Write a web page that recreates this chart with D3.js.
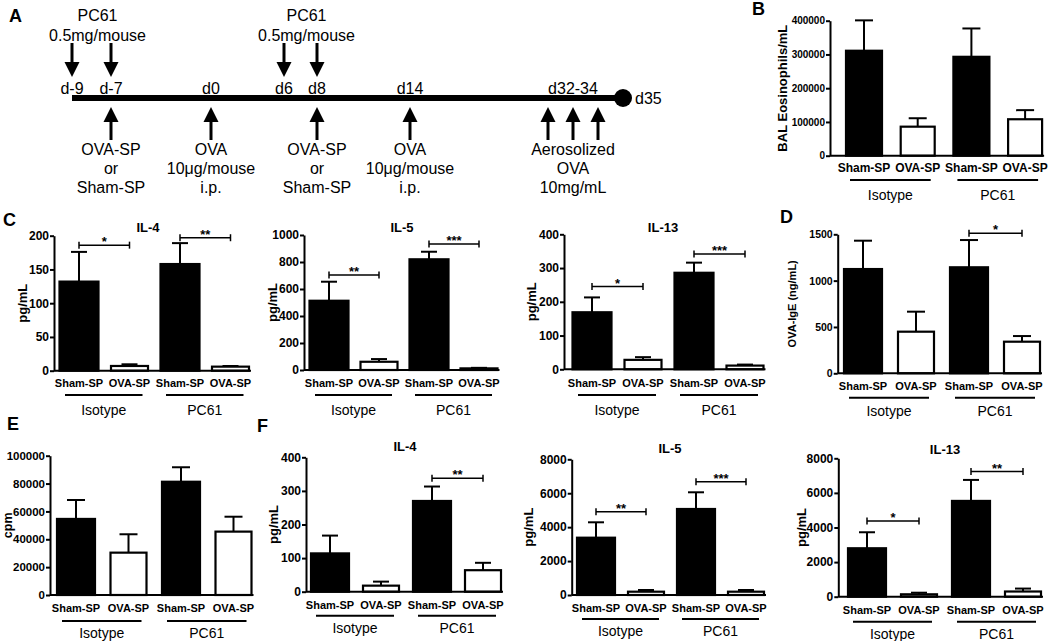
<!DOCTYPE html>
<html><head><meta charset="utf-8">
<script src="https://cdn.jsdelivr.net/npm/d3@7"></script>
<style>
body{margin:0;background:#fff}
svg{display:block}
text{font-family:"Liberation Sans",Arial,Helvetica,sans-serif;fill:#000}
</style>
</head><body>
<svg id="c" width="1050" height="641"></svg>
<script>
// ---------------- DATA ----------------
const categories = ["Sham-SP", "OVA-SP", "Sham-SP", "OVA-SP"];
const groups = ["Isotype", "PC61"];

const balEosMean = [311000, 86000, 293000, 108000];
const balEosErr  = [90000, 25000, 84000, 27000];
const balEosTicks = [0, 100000, 200000, 300000, 400000];

const balIL4Mean = [132, 7, 158, 6];
const balIL4Err  = [44, 2.5, 31, 1];
const balIL4Ticks = [0, 50, 100, 150, 200];
const balIL4Sig = [{from: 0, to: 1, label: "*", at: 186}, {from: 2, to: 3, label: "**", at: 197}];

const balIL5Mean = [513, 61, 820, 12];
const balIL5Err  = [141, 20, 56, 4];
const balIL5Ticks = [0, 200, 400, 600, 800, 1000];
const balIL5Sig = [{from: 0, to: 1, label: "**", at: 704}, {from: 2, to: 3, label: "***", at: 933}];

const balIL13Mean = [169, 28, 286, 11];
const balIL13Err  = [44, 8, 30, 3];
const balIL13Ticks = [0, 100, 200, 300, 400];
const balIL13Sig = [{from: 0, to: 1, label: "*", at: 245}, {from: 2, to: 3, label: "***", at: 342}];

const igeMean = [1125, 449, 1144, 341];
const igeErr  = [306, 216, 294, 61];
const igeTicks = [0, 500, 1000, 1500];
const igeSig = [{from: 2, to: 3, label: "*", at: 1511}];

const cpmMean = [54600, 30400, 81300, 45500];
const cpmErr  = [13600, 13200, 10400, 10700];
const cpmTicks = [0, 20000, 40000, 60000, 80000, 100000];

const recIL4Mean = [114, 18, 270, 64];
const recIL4Err  = [53, 12, 43, 22];
const recIL4Ticks = [0, 100, 200, 300, 400];
const recIL4Sig = [{from: 2, to: 3, label: "**", at: 338}];

const recIL5Mean = [3378, 195, 5070, 195];
const recIL5Err  = [908, 100, 985, 100];
const recIL5Ticks = [0, 2000, 4000, 6000, 8000];
const recIL5Sig = [{from: 0, to: 1, label: "**", at: 4911}, {from: 2, to: 3, label: "***", at: 6680}];

const recIL13Mean = [2800, 139, 5536, 300];
const recIL13Err  = [925, 92, 1214, 170];
const recIL13Ticks = [0, 2000, 4000, 6000, 8000];
const recIL13Sig = [{from: 0, to: 1, label: "*", at: 4379}, {from: 2, to: 3, label: "**", at: 7230}];

// Timeline (panel A)
const dayLabels = ["d-9", "d-7", "d0", "d6", "d8", "d14", "d32-34"];
const dayLabelDays = [-9, -7, 0, 6, 8, 14, 33];
const endDay = 35, endLabel = "d35", startDay = -9;
const pc61Days = [-9, -7, 6, 8];
const pc61Text = ["PC61", "0.5mg/mouse"];
const pc61TextDays = [-8, 7];
const upArrowDays = [-7, 0, 8, 14, 32, 33, 34];
const eventDays = [-7, 0, 8, 14, 33];
const eventTexts = [
  ["OVA-SP", "or", "Sham-SP"],
  ["OVA", "10\u03bcg/mouse", "i.p."],
  ["OVA-SP", "or", "Sham-SP"],
  ["OVA", "10\u03bcg/mouse", "i.p."],
  ["Aerosolized", "OVA", "10mg/mL"]
];

// ---------------- LAYOUT ----------------
const svg = d3.select("#c");
const FONT = '"Liberation Sans",Arial,Helvetica,sans-serif';

// piecewise day scale for the schematic timeline
const dayScale = d3.scaleLinear()
  .domain([-9, -7, 0, 6, 8, 14, 32, 34, 35])
  .range([72, 111, 211, 284, 317, 410, 548, 598, 623]);

function letter(t, x, y) {
  svg.append("text").attr("x", x).attr("y", y).attr("font-size", 18).attr("font-weight", "bold").text(t);
}

// ---- Panel A ----
(function () {
  const g = svg.append("g");
  const lineY = 98;
  g.append("line").attr("x1", dayScale(startDay)).attr("x2", dayScale(endDay))
    .attr("y1", lineY).attr("y2", lineY).attr("stroke", "#000").attr("stroke-width", 6);
  g.append("circle").attr("cx", dayScale(endDay)).attr("cy", lineY).attr("r", 9).attr("fill", "#000");
  g.append("text").attr("x", dayScale(endDay) + 12).attr("y", lineY + 6).attr("font-size", 16).text(endLabel);
  g.selectAll("text.day").data(dayLabels).join("text").attr("class", "day")
    .attr("x", (d, i) => dayScale(dayLabelDays[i])).attr("y", 94)
    .attr("text-anchor", "middle").attr("font-size", 16).text(d => d);
  // down arrows (PC61)
  pc61Days.forEach(d => {
    const x = dayScale(d);
    g.append("line").attr("x1", x).attr("x2", x).attr("y1", 43).attr("y2", 66).attr("stroke", "#000").attr("stroke-width", 3);
    g.append("path").attr("d", `M${x - 7.5},62L${x + 7.5},62L${x},77Z`).attr("fill", "#000");
  });
  pc61TextDays.forEach(d => {
    const x = dayScale(d) + 6;
    g.append("text").attr("x", x).attr("y", 21).attr("text-anchor", "middle").attr("font-size", 16).text(pc61Text[0]);
    g.append("text").attr("x", x).attr("y", 41).attr("text-anchor", "middle").attr("font-size", 16).text(pc61Text[1]);
  });
  // up arrows
  upArrowDays.forEach(d => {
    const x = dayScale(d);
    g.append("path").attr("d", `M${x},107L${x - 7.5},122L${x + 7.5},122Z`).attr("fill", "#000");
    g.append("line").attr("x1", x).attr("x2", x).attr("y1", 118).attr("y2", 140).attr("stroke", "#000").attr("stroke-width", 3);
  });
  eventDays.forEach((d, i) => {
    const x = dayScale(d);
    eventTexts[i].forEach((t, j) => {
      g.append("text").attr("x", x).attr("y", 155 + j * 19).attr("text-anchor", "middle").attr("font-size", 16).text(t);
    });
  });
})();
letter("A", 9, 22);

// ---- generic bar panel ----
function barPanel(p, mean, err, ticks, sig, title, yTitle) {
  const g = svg.append("g");
  const y = d3.scaleLinear().domain([0, ticks[ticks.length - 1]]).range([p.yBot, p.yTop]);
  const n = mean.length;
  const pi = 1 - p.w / p.s;
  const x = d3.scaleBand().domain(d3.range(n))
    .range([p.c0 - p.s / 2, p.c0 + (n - 0.5) * p.s])
    .paddingInner(pi).paddingOuter(pi / 2);
  const cx = i => x(i) + x.bandwidth() / 2;

  // y axis
  const ax = g.append("g").attr("transform", `translate(${p.ax},0)`)
    .call(d3.axisLeft(y).tickValues(ticks).tickSize(4).tickSizeOuter(0).tickPadding(1).tickFormat(d3.format("d")));
  ax.select(".domain").attr("stroke-width", 2);
  ax.selectAll(".tick line").attr("stroke-width", 2);
  ax.selectAll(".tick text").attr("font-size", p.tickFont).attr("font-weight", "bold")
    .attr("font-family", FONT).attr("fill", "#000");

  // bars
  g.selectAll("rect.bar").data(mean).join("rect").attr("class", "bar")
    .attr("x", (d, i) => x(i) + (i % 2 ? 1 : 0))
    .attr("width", (d, i) => x.bandwidth() - (i % 2 ? 2 : 0))
    .attr("y", d => y(d))
    .attr("height", d => y(0) - y(d))
    .attr("fill", (d, i) => i % 2 ? "#fff" : "#000")
    .attr("stroke", "#000").attr("stroke-width", 2.2);

  // error bars (upper only)
  mean.forEach((m, i) => {
    const c = cx(i), top = y(m + err[i]);
    g.append("line").attr("x1", c).attr("x2", c).attr("y1", y(m)).attr("y2", top).attr("stroke", "#000").attr("stroke-width", 2);
    g.append("line").attr("x1", c - p.cap / 2).attr("x2", c + p.cap / 2).attr("y1", top).attr("y2", top).attr("stroke", "#000").attr("stroke-width", 2);
  });

  // x baseline
  g.append("line").attr("x1", p.ax).attr("x2", x(n - 1) + x.bandwidth() + 1)
    .attr("y1", y(0)).attr("y2", y(0)).attr("stroke", "#000").attr("stroke-width", 2);

  // significance
  (sig || []).forEach(s => {
    const x1 = cx(s.from), x2 = cx(s.to), yy = y(s.at);
    g.append("line").attr("x1", x1).attr("x2", x2).attr("y1", yy).attr("y2", yy).attr("stroke", "#000").attr("stroke-width", 1.5);
    [x1, x2].forEach(xx => g.append("line").attr("x1", xx).attr("x2", xx).attr("y1", yy - 3.5).attr("y2", yy + 3.5).attr("stroke", "#000").attr("stroke-width", 1.5));
    g.append("text").attr("x", (x1 + x2) / 2).attr("y", yy + 1).attr("text-anchor", "middle")
      .attr("font-size", 13).attr("font-weight", "bold").text(s.label);
  });

  // category labels
  g.selectAll("text.cat").data(categories).join("text").attr("class", "cat")
    .attr("x", (d, i) => cx(i)).attr("y", p.xlY).attr("text-anchor", "middle")
    .attr("font-size", p.xFont).attr("font-weight", "bold").text(d => d);

  // group underlines + labels
  groups.forEach((gr, k) => {
    const a = cx(2 * k) - 14, b = cx(2 * k + 1) + 13;
    g.append("line").attr("x1", a).attr("x2", b).attr("y1", p.ulY).attr("y2", p.ulY).attr("stroke", "#000").attr("stroke-width", 2);
    g.append("text").attr("x", (a + b) / 2).attr("y", p.glY).attr("text-anchor", "middle")
      .attr("font-size", p.glFont).text(gr);
  });

  if (title) {
    g.append("text").attr("x", p.titleX).attr("y", p.titleY).attr("text-anchor", "middle")
      .attr("font-size", 13).attr("font-weight", "bold").text(title);
  }
  const yc = (p.yTop + p.yBot) / 2;
  g.append("text").attr("transform", `translate(${p.ytX + p.ytFont * 0.36},${yc}) rotate(-90)`)
    .attr("text-anchor", "middle")
    .attr("font-size", p.ytFont).attr("font-weight", "bold").text(yTitle);
}

// Panel B
barPanel({ax: 830, yTop: 20.7, yBot: 155.7, c0: 864, s: 53.7, w: 36, cap: 18, tickFont: 10, xFont: 12,
  xlY: 172, ulY: 180, glY: 200, glFont: 14, ytX: 782, ytFont: 13},
  balEosMean, balEosErr, balEosTicks, [], null, "BAL Eosinophils/mL");
letter("B", 752, 15);

// Panel C
const cBase = {cap: 16, w: 39, tickFont: 12, xFont: 11, xlY: 387, ulY: 395, glY: 415, glFont: 14, ytFont: 13, titleY: 232};
barPanel(Object.assign({}, cBase, {ax: 54, yTop: 235.7, yBot: 370.7, c0: 79, s: 50.5, ytX: 22, titleX: 148}),
  balIL4Mean, balIL4Err, balIL4Ticks, balIL4Sig, "IL-4", "pg/mL");
barPanel(Object.assign({}, cBase, {ax: 304, yTop: 235, yBot: 370, c0: 329, s: 50, ytX: 272, titleX: 402}),
  balIL5Mean, balIL5Err, balIL5Ticks, balIL5Sig, "IL-5", "pg/mL");
barPanel(Object.assign({}, cBase, {ax: 564, yTop: 234.3, yBot: 369.3, c0: 592, s: 51, ytX: 531, titleX: 663}),
  balIL13Mean, balIL13Err, balIL13Ticks, balIL13Sig, "IL-13", "pg/mL");
letter("C", 3, 226);

// Panel D
barPanel({ax: 837.7, yTop: 234.3, yBot: 373.3, c0: 863, s: 53, w: 38, cap: 18, tickFont: 10.5, xFont: 11,
  xlY: 390, ulY: 397.7, glY: 416, glFont: 14, ytX: 792, ytFont: 11},
  igeMean, igeErr, igeTicks, igeSig, null, "OVA-IgE (ng/mL)");
letter("D", 780, 223);

// Panel E
barPanel({ax: 50, yTop: 455.7, yBot: 595, c0: 76, s: 52.5, w: 38, cap: 18, tickFont: 11.5, xFont: 11,
  xlY: 612, ulY: 621, glY: 638, glFont: 14, ytX: 7, ytFont: 12.5},
  cpmMean, cpmErr, cpmTicks, [], null, "cpm");
letter("E", 7, 430);

// Panel F
const fBase = {cap: 16, w: 38, tickFont: 12, xFont: 11, glFont: 14, ytFont: 13};
barPanel(Object.assign({}, fBase, {ax: 306, yTop: 457.3, yBot: 591.7, c0: 330, s: 51, xlY: 609, ulY: 615.7, glY: 633, ytX: 273, titleX: 405, titleY: 451}),
  recIL4Mean, recIL4Err, recIL4Ticks, recIL4Sig, "IL-4", "pg/mL");
barPanel(Object.assign({}, fBase, {ax: 571.7, yTop: 459.3, yBot: 595, c0: 596, s: 50, xlY: 612, ulY: 619, glY: 636, ytX: 528, titleX: 670, titleY: 452.5}),
  recIL5Mean, recIL5Err, recIL5Ticks, recIL5Sig, "IL-5", "pg/mL");
barPanel(Object.assign({}, fBase, {ax: 838.3, yTop: 458.3, yBot: 596.7, c0: 867, s: 52, xlY: 614, ulY: 621.7, glY: 639, ytX: 801, titleX: 945, titleY: 453.5}),
  recIL13Mean, recIL13Err, recIL13Ticks, recIL13Sig, "IL-13", "pg/mL");
letter("F", 257, 432);
</script>
</body></html>
